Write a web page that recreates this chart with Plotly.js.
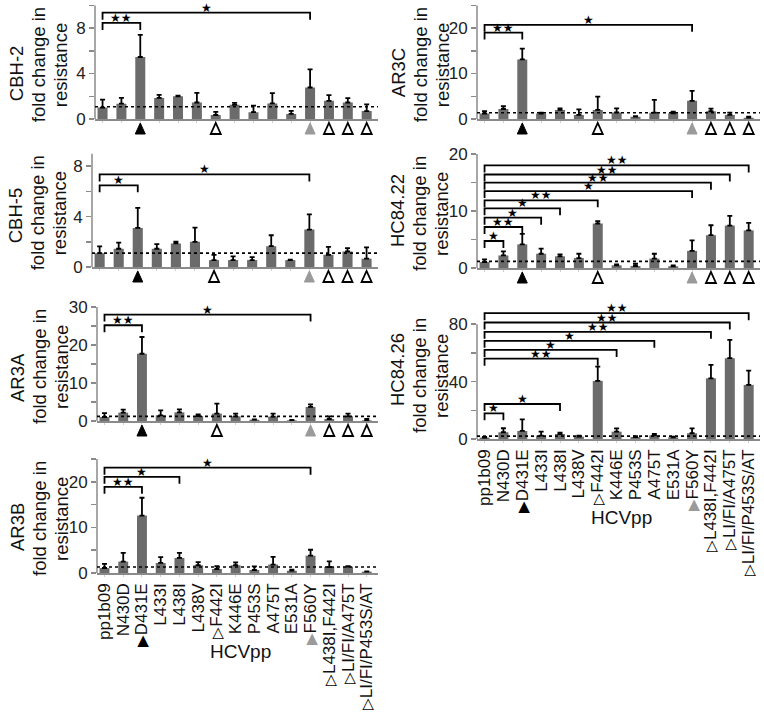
<!DOCTYPE html>
<html><head><meta charset="utf-8">
<script src="https://cdn.plot.ly/plotly-3.0.1.min.js"></script>
<style>html,body{margin:0;padding:0;background:#fff}</style>
</head><body><div id="chart" style="width:764px;height:720px"></div>
<script>
// ---------- data ----------
const categories = ['pp1b09','N430D','D431E','L433I','L438I','L438V','F442I','K446E','P453S','A475T','E531A','F560Y','L438I,F442I','LI/FI/A475T','LI/FI/P453S/AT'];
// marker under each mutant: '' none, 'filled' black, 'open' white, 'gray' grey
const mutationMark = ['','','filled','','','','open','','','','','gray','open','open','open'];
const xGroupLabel = 'HCVpp';
const yTitleLines = ['fold change in','resistance'];

const cbh2Mean = [1.0,1.35,5.45,1.85,2.0,1.45,0.35,1.25,0.6,1.37,0.45,2.77,1.6,1.45,0.7];
const cbh2Err  = [0.7,0.5,1.95,0.27,0.05,0.85,0.27,0.17,0.57,0.9,0.27,1.6,0.5,0.38,0.58];
const cbh2Sig  = [[2,8.45,'★★'],[11,9.35,'★']];
const cbh2Base = 1.08;

const ar3cMean = [1.2,2.2,13.1,1.2,2.0,0.9,2.0,1.45,0.5,1.4,1.25,4.0,1.7,0.9,0.3];
const ar3cErr  = [0.5,0.6,2.35,0.2,0.35,1.2,2.9,0.9,0.15,2.8,0.35,2.2,0.6,0.5,0.2];
const ar3cSig  = [[2,19.0,'★★'],[11,20.7,'★']];
const ar3cBase = 1.37;

const cbh5Mean = [1.1,1.45,3.1,1.45,1.87,2.0,0.55,0.55,0.55,1.65,0.55,2.97,0.97,1.23,0.66];
const cbh5Err  = [0.53,0.48,1.6,0.37,0.15,1.12,0.42,0.3,0.24,0.87,0.03,1.2,0.63,0.27,0.9];
const cbh5Sig  = [[2,6.48,'★'],[11,7.35,'★']];
const cbh5Base = 1.1;

const hc8422Mean = [1.05,2.2,4.15,2.5,2.05,1.75,7.8,0.47,0.35,1.65,0.3,3.0,5.75,7.45,6.6];
const hc8422Err  = [0.45,0.7,1.85,0.9,0.35,0.75,0.4,0.17,0.4,0.85,0.17,1.85,1.75,1.7,1.3];
const hc8422Sig  = [[1,4.74,'★'],[2,7.19,'★★'],[3,8.83,'★'],[4,10.47,'★'],[6,11.87,'★★'],[11,13.5,'★'],[12,14.97,'★★'],[13,16.4,'★★'],[14,18.0,'★★']];
const hc8422Base = 1.17;

const ar3aMean = [1.05,2.2,17.7,1.5,2.28,1.3,1.95,1.23,0.35,1.15,0.18,3.7,0.53,1.23,0.18];
const ar3aErr  = [1.0,0.8,4.4,1.3,0.8,0.45,2.6,0.7,0.1,0.8,0.08,0.7,0.7,0.7,0.35];
const ar3aSig  = [[2,25.2,'★★'],[11,28.0,'★']];
const ar3aBase = 1.23;

const hc8426Mean = [1.0,4.7,5.6,2.3,3.5,1.6,40.5,5.1,1.4,2.6,1.2,4.0,42.3,56.3,37.7];
const hc8426Err  = [0.5,2.8,8.1,2.8,0.9,0.7,10,2.3,0.5,0.9,0.4,3.4,9.3,12.8,10];
const hc8426Sig  = [[1,17.9,'★'],[4,24.4,'★'],[6,56.0,'★★'],[7,62.1,'★'],[9,68.4,'★'],[12,74.7,'★★'],[13,81.2,'★★'],[14,87.7,'★★']];
const hc8426Base = 2.0;

const ar3bMean = [1.1,2.5,12.6,2.2,3.3,1.7,0.88,1.7,0.66,1.85,0.5,3.8,1.32,1.4,0.3];
const ar3bErr  = [0.9,1.9,3.9,1.3,1.1,0.7,0.6,0.65,0.8,1.7,0.22,1.3,1.24,0.1,0.07];
const ar3bSig  = [[2,18.9,'★★'],[4,21.1,'★'],[11,23.1,'★']];
const ar3bBase = 1.3;

// ---------- layout helpers ----------
const W = 764, H = 720;
const FONT = 'Liberation Sans, Arial, Helvetica, sans-serif';
const markColor = {filled:'#000', gray:'#9a9a9a', open:'#000'};
const triGlyph = {filled:'▶', gray:'▶', open:'▷'};
const tickText = categories.map((c,i) => {
  const m = mutationMark[i];
  if (!m) return c;
  return `<span style="font-size:15px;color:${markColor[m]}">${triGlyph[m]}</span>${c}`;
});

// pixel boxes: [left, right, top, bottom]
const panels = [
  {name:'CBH-2',   mean:cbh2Mean,   err:cbh2Err,   sig:cbh2Sig,   base:cbh2Base,   box:[95,378,5.25,119], range:[0,10], dtick:4,  minor:2,  axisTop:10, labels:false, titleX:38,  nameShift:11},
  {name:'AR3C',    mean:ar3cMean,   err:ar3cErr,   sig:ar3cSig,   base:ar3cBase,   box:[477,760,5.25,119], range:[0,25], dtick:10, minor:5,  axisTop:25, labels:false, titleX:420, nameShift:11},
  {name:'CBH-5',   mean:cbh5Mean,   err:cbh5Err,   sig:cbh5Sig,   base:cbh5Base,   box:[92,378,153.6,267], range:[0,9], dtick:4,  minor:2,  axisTop:9, labels:false, titleX:37,  nameShift:5},
  {name:'HC84.22', mean:hc8422Mean, err:hc8422Err, sig:hc8422Sig, base:hc8422Base, box:[477,760,154,268], range:[0,20], dtick:10, minor:5,  axisTop:20, labels:false, titleX:419, nameShift:0},
  {name:'AR3A',    mean:ar3aMean,   err:ar3aErr,   sig:ar3aSig,   base:ar3aBase,   box:[97,378,307,421], range:[0,30], dtick:10, minor:5,  axisTop:30, labels:false, titleX:39,  nameShift:14},
  {name:'HC84.26', mean:hc8426Mean, err:hc8426Err, sig:hc8426Sig, base:hc8426Base, box:[477,760,307,439], range:[0,92], dtick:40, minor:20, axisTop:80, labels:true, titleX:419, nameShift:-3},
  {name:'AR3B',    mean:ar3bMean,   err:ar3bErr,   sig:ar3bSig,   base:ar3bBase,   box:[97,378,459,573], range:[0,25], dtick:10, minor:5,  axisTop:25, labels:true, titleX:39,  nameShift:11},
];

const data = [], shapes = [], annotations = [];
const layout = {
  width: W, height: H, margin:{l:0,r:0,t:0,b:0},
  paper_bgcolor:'#fff', plot_bgcolor:'rgba(0,0,0,0)',
  showlegend:false, bargap:0.47,
  font:{family:FONT, color:'#222'},
  shapes, annotations
};

const xIdx = categories.map((c,i)=>i);

panels.forEach((p, k) => {
  const n = k + 1;
  const xa = 'x' + (n===1?'':n), ya = 'y' + (n===1?'':n);
  const [L,R,T,B] = p.box;
  const pxPerUnit = (B - T) / (p.range[1] - p.range[0]);

  data.push({
    type:'bar', x:xIdx, y:p.mean, xaxis:xa, yaxis:ya,
    marker:{color:'#6b6b6b', line:{width:0}},
    error_y:{type:'data', array:p.err, arrayminus:p.err.map(()=>0), symmetric:false,
             color:'#000', thickness:1.8, width:2.5},
    hoverinfo:'skip'
  });

  layout['xaxis' + (n===1?'':n)] = {
    domain:[L/W, R/W], anchor:ya, range:[-0.4,14.6],
    tickmode:'array', tickvals:xIdx, ticktext:tickText,
    showticklabels:p.labels, tickangle:-90,
    tickfont:{size:17, color:'#111', family:FONT},
    ticks:'outside', ticklen:2, tickcolor:'#cfcfcf', tickwidth:1, tickson:'boundaries',
    showline:true, linecolor:'#8a8a8a', linewidth:1.5,
    showgrid:false, zeroline:false, fixedrange:true
  };
  layout['yaxis' + (n===1?'':n)] = {
    domain:[1-B/H, 1-T/H], anchor:xa, range:p.range,
    tickmode:'linear', tick0:0, dtick:p.dtick,
    ticks:'outside', ticklen:5, tickcolor:'#8a8a8a', tickwidth:1.5,
    minor:{dtick:p.minor, tick0:0, ticks:'outside', ticklen:5, tickcolor:'#8a8a8a', tickwidth:1.5, showgrid:false},
    tickfont:{size:17, color:'#222', family:FONT},
    showline:false, showgrid:false, zeroline:false, fixedrange:true
  };

  // y axis line
  shapes.push({type:'line', xref:xa+' domain', yref:ya, x0:0, x1:0, y0:0, y1:p.axisTop,
               line:{color:'#8a8a8a', width:1.5}});
  // baseline (dotted)
  shapes.push({type:'line', xref:xa+' domain', yref:ya, x0:0, x1:1, y0:p.base, y1:p.base,
               line:{color:'#000', width:1.6, dash:'dot'}});
  // significance brackets
  const leg = 7 / pxPerUnit;
  p.sig.forEach(([to, h, lab]) => {
    shapes.push({type:'path', xref:xa, yref:ya,
      path:`M0,${h-leg} L0,${h} L${to},${h} L${to},${h-leg}`,
      line:{color:'#000', width:1.8}});
    annotations.push({xref:xa, yref:ya, x:to/2, y:h, text:lab, showarrow:false,
      yanchor:'bottom', yshift:-4, font:{size:12, color:'#000', family:'DejaVu Sans'}});
  });
  // triangles under the axis
  if (!p.labels) {
    mutationMark.forEach((m, i) => {
      if (!m) return;
      shapes.push({type:'path', xref:xa, yref:ya+' domain',
        xsizemode:'pixel', ysizemode:'pixel', xanchor:i, yanchor:0,
        path:'M-5,-15 L5,-15 L0,-4 Z',
        fillcolor: m==='open' ? '#fff' : markColor[m],
        line:{color:markColor[m], width: m==='open' ? 1.8 : 1}});
    });
  } else {
    annotations.push({xref:xa, yref:ya+' domain', x:7.25, y:0, yshift:-78, text:xGroupLabel,
      showarrow:false, yanchor:'middle', font:{size:19, color:'#111', family:FONT}});
  }
  // y-axis title: three rotated lines
  [p.name].concat(yTitleLines).forEach((line, j) => {
    annotations.push({xref:'paper', yref:ya+' domain', x:(p.titleX + (j-1)*22)/W, y:0.5,
      yshift: j===0 ? -p.nameShift : -3,
      xanchor:'center', yanchor:'middle', textangle:-90, showarrow:false,
      text: line, font:{size:18.5, color:'#111', family:FONT}});
  });
});

Plotly.newPlot('chart', data, layout, {staticPlot:true, displayModeBar:false});
</script>
</body></html>
